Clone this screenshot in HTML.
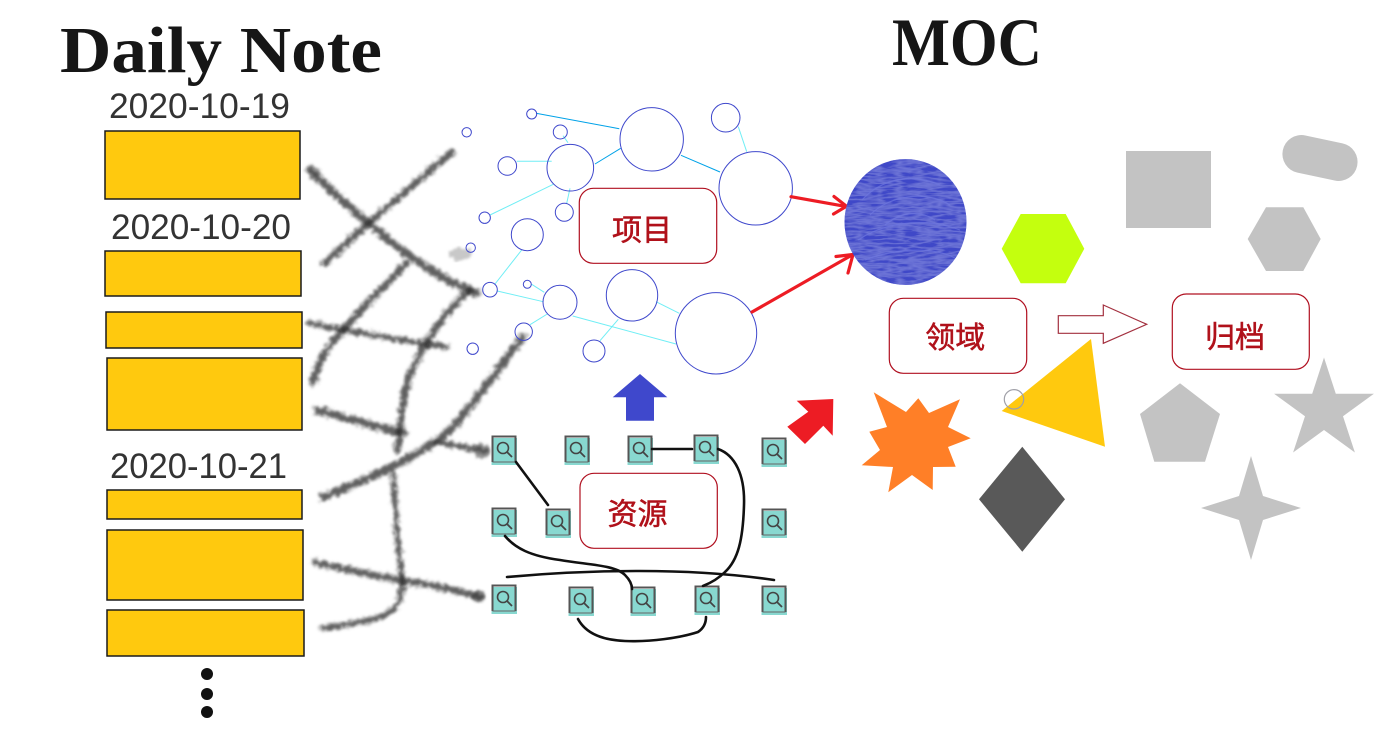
<!DOCTYPE html>
<html><head><meta charset="utf-8"><style>
html,body{margin:0;padding:0;background:#fff;}
svg{display:block;}
</style></head><body>
<svg width="1386" height="735" viewBox="0 0 1386 735" xmlns="http://www.w3.org/2000/svg">
<defs>
<filter id="brush" x="-20%" y="-20%" width="140%" height="140%">
<feTurbulence type="fractalNoise" baseFrequency="0.22" numOctaves="2" seed="4" result="n"/>
<feDisplacementMap in="SourceGraphic" in2="n" scale="8" xChannelSelector="R" yChannelSelector="G"/>
<feGaussianBlur stdDeviation="1.3"/>
</filter>
<filter id="tex" x="0" y="0" width="100%" height="100%">
<feTurbulence type="turbulence" baseFrequency="0.05 0.25" numOctaves="2" seed="7" result="t"/>
<feColorMatrix in="t" type="matrix" values="0 0 0 0 0.75  0 0 0 0 0.78  0 0 0 0 1  0 0 0 -2.2 1.0" result="c"/>
<feComposite in="c" in2="SourceGraphic" operator="in" result="m"/>
<feMerge><feMergeNode in="SourceGraphic"/><feMergeNode in="m"/></feMerge>
</filter>
<symbol id="ic" viewBox="0 0 27 31" width="27" height="31">
<rect x="0.5" y="3" width="25.5" height="27" fill="#88d8d0"/>
<path d="M1.5,27 V1.5 H24.5 V27" fill="none" stroke="#555" stroke-width="2"/>
<line x1="1.5" y1="27" x2="24.5" y2="27" stroke="#666" stroke-width="1"/>
<circle cx="12" cy="13" r="5.5" fill="none" stroke="#444" stroke-width="1.6"/>
<line x1="16" y1="17" x2="21" y2="22" stroke="#444" stroke-width="1.8"/>
</symbol>
</defs>

<!-- Titles -->
<text x="60" y="72" font-family="'Liberation Serif',serif" font-weight="bold" font-size="66" fill="#161616" textLength="322" lengthAdjust="spacingAndGlyphs">Daily Note</text>
<text x="892" y="65" font-family="'Liberation Serif',serif" font-weight="bold" font-size="68" fill="#161616" textLength="150" lengthAdjust="spacingAndGlyphs">MOC</text>

<!-- Dates -->
<g font-family="'Liberation Sans',sans-serif" font-size="35" fill="#333">
<text x="109" y="118" textLength="181" lengthAdjust="spacingAndGlyphs">2020-10-19</text>
<text x="111" y="239" textLength="180" lengthAdjust="spacingAndGlyphs">2020-10-20</text>
<text x="110" y="478" textLength="177" lengthAdjust="spacingAndGlyphs">2020-10-21</text>
</g>

<!-- Yellow boxes -->
<g fill="#ffc90e" stroke="#1a1a1a" stroke-width="1.5">
<rect x="105" y="131" width="195" height="68"/>
<rect x="105" y="251" width="196" height="45"/>
<rect x="106" y="312" width="196" height="36"/>
<rect x="107" y="358" width="195" height="72"/>
<rect x="107" y="490" width="195" height="29"/>
<rect x="107" y="530" width="196" height="70"/>
<rect x="107" y="610" width="197" height="46"/>
</g>
<g fill="#111">
<circle cx="207" cy="674" r="6"/>
<circle cx="207" cy="694" r="6"/>
<circle cx="207" cy="712" r="6"/>
</g>

<!-- Brush strokes -->
<ellipse cx="460" cy="254" rx="12" ry="6" fill="#c8c8c8" filter="url(#brush)"/>
<g fill="none" stroke-linecap="round">
<g stroke="#555" stroke-opacity="0.35" filter="url(#brush)">
<path d="M310,170 C330,190 355,212 373,227 C400,250 440,280 477,293" stroke-width="10"/>
<path d="M452,152 C420,180 370,220 325,263" stroke-width="9"/>
<path d="M407,263 C390,280 360,310 330,345 C320,360 315,372 313,383" stroke-width="9"/>
<path d="M310,323 C340,330 390,338 447,347" stroke-width="8"/>
<path d="M470,290 C445,312 425,340 410,375 C400,400 402,430 397,450" stroke-width="9"/>
<path d="M317,410 C340,416 370,425 403,433" stroke-width="10"/>
<path d="M523,337 C505,360 480,395 455,425 C430,450 390,470 323,497" stroke-width="10"/>
<path d="M437,442 C455,445 470,448 485,451" stroke-width="8"/>
<path d="M393,473 C395,510 398,545 402,577 C404,600 395,612 380,617 C360,623 340,626 322,628" stroke-width="8"/>
<path d="M315,562 C345,570 380,577 420,583 C445,588 465,593 480,597" stroke-width="9"/>
</g>
<g stroke="#222" stroke-opacity="0.6" stroke-dasharray="5 2 8 3 3 2" filter="url(#brush)">
<path d="M310,170 C330,190 355,212 373,227 C400,250 440,280 477,293" stroke-width="6"/>
<path d="M452,152 C420,180 370,220 325,263" stroke-width="5"/>
<path d="M407,263 C390,280 360,310 330,345 C320,360 315,372 313,383" stroke-width="5"/>
<path d="M310,323 C340,330 390,338 447,347" stroke-width="4"/>
<path d="M470,290 C445,312 425,340 410,375 C400,400 402,430 397,450" stroke-width="5"/>
<path d="M317,410 C340,416 370,425 403,433" stroke-width="6"/>
<path d="M523,337 C505,360 480,395 455,425 C430,450 390,470 323,497" stroke-width="6"/>
<path d="M437,442 C455,445 470,448 485,451" stroke-width="4"/>
<path d="M393,473 C395,510 398,545 402,577 C404,600 395,612 380,617 C360,623 340,626 322,628" stroke-width="4"/>
<path d="M315,562 C345,570 380,577 420,583 C445,588 465,593 480,597" stroke-width="5"/>
</g>
</g>
<circle cx="481" cy="451" r="8" fill="#444" fill-opacity="0.55" filter="url(#brush)"/>
<circle cx="315" cy="173" r="6" fill="#444" fill-opacity="0.5" filter="url(#brush)"/>
<circle cx="478" cy="596" r="6" fill="#333" fill-opacity="0.5" filter="url(#brush)"/>

<!-- Graph lines -->
<g stroke="#00a2e8" stroke-width="1">
<line x1="536" y1="113.3" x2="619.3" y2="128.7"/>
<line x1="595" y1="164" x2="620.7" y2="148.3"/>
<line x1="681" y1="155.3" x2="720" y2="172"/>
</g>
<g stroke="#70eef5" stroke-width="1">
<line x1="738.3" y1="126.7" x2="746.7" y2="151.7"/>
<line x1="516.7" y1="161.3" x2="551.7" y2="161.3"/>
<line x1="563" y1="135.7" x2="568" y2="142.7"/>
<line x1="490" y1="215" x2="553.3" y2="184.3"/>
<line x1="570" y1="188.3" x2="566.7" y2="203.3"/>
<line x1="521.7" y1="250" x2="495" y2="284"/>
<line x1="497.3" y1="291" x2="543.3" y2="301.7"/>
<line x1="531.7" y1="284.3" x2="544.3" y2="292.3"/>
<line x1="530" y1="324.7" x2="547.3" y2="314"/>
<line x1="572.7" y1="316" x2="676" y2="344"/>
<line x1="618.3" y1="319.3" x2="600" y2="340.7"/>
<line x1="656" y1="301.7" x2="679.3" y2="313.3"/>
</g>

<!-- Graph circles -->
<g fill="none" stroke="#3f48cc" stroke-width="1">
<circle cx="531.7" cy="114" r="5"/>
<circle cx="466.7" cy="132.3" r="4.7"/>
<circle cx="560.3" cy="132" r="7"/>
<circle cx="651.7" cy="139.3" r="31.7"/>
<circle cx="725.7" cy="117.7" r="14.3"/>
<circle cx="507.3" cy="166" r="9.3"/>
<circle cx="570.3" cy="167.7" r="23.3"/>
<circle cx="755.7" cy="188.3" r="36.7"/>
<circle cx="484.7" cy="217.7" r="5.7"/>
<circle cx="564.3" cy="212.3" r="9"/>
<circle cx="527.3" cy="234.7" r="16"/>
<circle cx="470.7" cy="247.7" r="4.7"/>
<circle cx="490" cy="289.7" r="7.3"/>
<circle cx="527.3" cy="284.3" r="4"/>
<circle cx="560" cy="302.3" r="17"/>
<circle cx="632" cy="295.3" r="25.7"/>
<circle cx="523.7" cy="331.7" r="8.7"/>
<circle cx="472.7" cy="348.7" r="5.7"/>
<circle cx="594" cy="351" r="11"/>
<circle cx="716" cy="333.3" r="40.7"/>
</g>

<!-- Red arrows to blob -->
<g fill="none" stroke="#ed1c24" stroke-width="3.2" stroke-linecap="round" stroke-linejoin="round">
<line x1="791" y1="196.7" x2="845" y2="206.3"/>
<polyline points="834,196.5 846.5,206.3 833.5,214"/>
<line x1="752" y1="312" x2="852" y2="255"/>
<polyline points="836,256.5 853,254.5 848,273"/>
</g>

<!-- Blue blob -->
<ellipse cx="905.5" cy="222" rx="61" ry="63" fill="#3f48c8"/>
<ellipse cx="905.5" cy="222" rx="61" ry="63" fill="#3f48c8" filter="url(#tex)" opacity="0.3"/>
<g fill="none" stroke="#6f78e0" stroke-width="1.2" opacity="0.7">
<path d="M862,200 C880,180 910,172 940,185"/>
<path d="M870,215 C890,195 925,190 950,205"/>
<path d="M858,240 C880,225 920,215 960,230"/>
<path d="M865,260 C890,250 930,245 955,258"/>
<path d="M885,225 C900,212 920,210 935,220"/>
</g>

<!-- Text boxes -->
<g fill="#fff" stroke="#b01020" stroke-width="1.2">
<rect x="579.3" y="188.3" width="137.4" height="75" rx="14"/>
<rect x="580" y="473.3" width="137.3" height="75" rx="14"/>
<rect x="889.3" y="298.3" width="137.4" height="75" rx="14"/>
<rect x="1172.3" y="294" width="137" height="75.3" rx="14"/>
</g>
<g font-family="'Liberation Sans','Noto Sans CJK SC',sans-serif" font-size="30" fill="#b0111a" stroke="#b0111a" stroke-width="0.5" text-anchor="middle">
<text x="642" y="240.4">项目</text>
<text x="637.5" y="524.7">资源</text>
<text x="955.3" y="348">领域</text>
<text x="1235" y="347.3">归档</text>
</g>

<!-- Blue up arrow -->
<polygon points="612.7,397.3 640,374 667.3,397.3 654,397.3 654,420.7 626,420.7 626,397.3" fill="#3f48cc"/>

<!-- Resource icons -->
<g>
<use href="#ic" x="491" y="435"/>
<use href="#ic" x="564" y="435"/>
<use href="#ic" x="627" y="435"/>
<use href="#ic" x="693" y="434"/>
<use href="#ic" x="761" y="437"/>
<use href="#ic" x="491" y="507"/>
<use href="#ic" x="545" y="508"/>
<use href="#ic" x="761" y="508"/>
<use href="#ic" x="491" y="584"/>
<use href="#ic" x="568" y="586"/>
<use href="#ic" x="630" y="586"/>
<use href="#ic" x="694" y="585"/>
<use href="#ic" x="761" y="585"/>
</g>

<!-- Resource black lines -->
<g fill="none" stroke="#111" stroke-width="2.6" stroke-linecap="round">
<path d="M516,462 L548,505"/>
<path d="M652,449 L692,449"/>
<path d="M718,449 C735,455 745,475 744,505 C743,540 738,560 725,572 C717,580 708,584 703,586"/>
<path d="M505,536 C515,548 530,556 560,560 C590,565 615,565 625,575 C630,580 632,585 632,589"/>
<path d="M507,577 C540,574 580,571 640,571 C700,571 740,575 774,580"/>
<path d="M578,619 C585,632 600,640 625,641 C650,642 680,638 698,632 C704,628 706,622 706,617"/>
</g>

<!-- Red block arrow -->
<polygon points="833.3,399 796.7,400.7 808.3,411.7 787.3,426.7 805,444 823.3,425.7 832.7,435.7" fill="#ed1c24"/>

<!-- Orange star -->
<polygon points="873.7,392.3 906,412 918.3,398.3 929,413 960,399.3 948,427 970.7,438.3 948,447 955.7,466.7 933,467 932.7,490 912,475 888.3,492.3 893,467 861.7,465.3 880,450 869.3,431.7 887,427" fill="#ff7f27"/>

<!-- Lime hexagon -->
<polygon points="1001.7,248.7 1020.7,214 1065.7,214 1084.3,248.7 1065.7,283.3 1020.7,283.3" fill="#c4ff0e"/>

<!-- Yellow triangle -->
<polygon points="1001.7,411 1091,339 1105,446.7" fill="#ffc90e"/>
<circle cx="1014" cy="399.3" r="9.7" fill="none" stroke="#a0a0a8" stroke-width="1.2"/>

<!-- Dark diamond -->
<polygon points="1022.3,446.7 1065,499.3 1022.3,551.7 979,499.3" fill="#595959"/>

<!-- Hollow arrow -->
<polygon points="1058.3,315.7 1103.3,315.7 1103.3,305 1146.7,324.3 1103.3,343.3 1103.3,333.3 1058.3,333.3" fill="#fff" stroke="#a3303f" stroke-width="1.2"/>

<!-- Gray shapes -->
<g fill="#c3c3c3">
<rect x="1126" y="151" width="85" height="77"/>
<rect x="-38" y="-19" width="76" height="38" rx="19" transform="translate(1320,158) rotate(12)"/>
<polygon points="1247.7,239 1266,207.3 1303.3,207.3 1320.7,239 1303.3,271 1266,271"/>
<polygon points="1180,383.3 1220,414 1205,461.7 1154.3,461.7 1140,414"/>
<polygon points="1324,357.5 1335.8,393.8 1373.9,393.8 1343,416.2 1354.9,452.5 1324,430 1293.1,452.5 1305,416.2 1274.1,393.8 1312.2,393.8"/>
<polygon points="1251,456 1263,496 1301,508 1263,520 1251,560 1239,520 1201,508 1239,496"/>
</g>
</svg>
</body></html>
